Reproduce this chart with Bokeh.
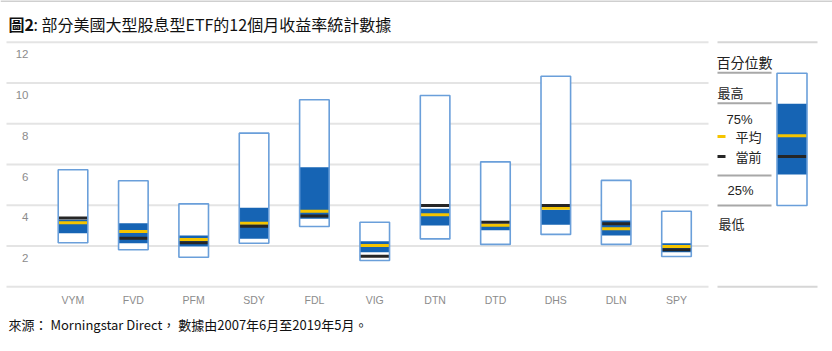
from bokeh.plotting import figure
from bokeh.models import Range1d, FixedTicker, ColumnDataSource, Title
from bokeh.core.properties import value
from bokeh.embed import file_html
from bokeh.resources import INLINE

# ---------------- data ----------------
etfs = ["VYM", "FVD", "PFM", "SDY", "FDL", "VIG", "DTN", "DTD", "DHS", "DLN", "SPY"]
low = [2.16, 1.82, 1.45, 2.14, 2.96, 1.29, 2.35, 2.08, 2.57, 2.08, 1.49]
q25 = [2.63, 2.14, 1.98, 2.36, 3.34, 1.70, 3.01, 2.77, 3.05, 2.52, 1.70]
q75 = [3.29, 3.12, 2.52, 3.88, 5.87, 2.24, 3.83, 3.00, 3.78, 3.25, 2.14]
high = [5.74, 5.20, 4.07, 7.54, 9.18, 3.17, 9.39, 6.13, 10.33, 5.22, 3.71]
mean = [3.14, 2.71, 2.32, 3.12, 3.71, 2.03, 3.53, 3.02, 3.86, 2.85, 1.98]
current = [3.37, 2.38, 2.16, 2.97, 3.48, 1.50, 3.99, 3.17, 3.99, 3.09, 1.82]
y_ticks = [0, 2, 4, 6, 8, 10, 12]
y_tick_labels = ["", "2", "4", "6", "8", "10", "12"]

title_bold = "圖2"
title_rest = ": 部分美國大型股息型ETF的12個月收益率統計數據"
footer = "來源： Morningstar Direct， 數據由2007年6月至2019年5月。"
legend_title = "百分位數"
legend_labels = ["最高", "75%", "平均", "當前", "25%", "最低"]

# ---------------- styles ----------------
CJK = "Noto Sans CJK TC"
NARROW = "'Liberation Sans Narrow', 'Liberation Sans', sans-serif"
GRID = "#e4e4e4"
OUTLINE = "#6a9fda"
BLUE = "#1664b4"
YELLOW = "#f5c400"
BLACK = "#262626"
GREY_TXT = "#8c8c8c"

W, H = 832, 351
FRAME_BOTTOM = 290
PX_PER_CAT = 60.35
FIRST_CAT_PX = 72.5
ZERO_PX = 286.3
PX_PER_UNIT = 20.38

x0 = -FIRST_CAT_PX / PX_PER_CAT
x1 = x0 + W / PX_PER_CAT
y0 = -(FRAME_BOTTOM - ZERO_PX) / PX_PER_UNIT
y1 = ZERO_PX / PX_PER_UNIT

p = figure(width=W, height=H, output_backend="svg", toolbar_location=None,
           x_range=Range1d(x0, x1), y_range=Range1d(y0, y1),
           y_axis_location=None,
           min_border_left=0, min_border_right=0, min_border_top=0,
           min_border_bottom=H - FRAME_BOTTOM)
p.extra_x_ranges = {"page": Range1d(0, W)}
p.extra_y_ranges = {"page": Range1d(FRAME_BOTTOM, 0)}
p.outline_line_color = None
p.grid.visible = False
p.background_fill_color = "white"
p.border_fill_color = "white"

# gridlines
gsrc = ColumnDataSource(dict(y=y_ticks, t=y_tick_labels))
p.segment(x0=6, x1=708, y0="y", y1="y", source=gsrc, x_range_name="page",
          line_color=GRID, line_width=2)
p.text(x=28, y="y", text="t", source=gsrc, x_range_name="page",
       text_align="right", text_baseline="middle", y_offset=12,
       text_font=value(NARROW), text_font_size="11.5px", text_color=GREY_TXT)

# boxes
src = ColumnDataSource(dict(x=list(range(len(etfs))), low=low, q25=q25, q75=q75,
                            high=high, mean=mean, current=current))
BW = 0.49
p.vbar(x="x", width=BW, bottom="low", top="high", source=src,
       fill_color="white", line_color=None)
p.vbar(x="x", width=BW, bottom="q25", top="q75", source=src,
       fill_color=BLUE, line_color=None)
p.rect(x="x", y="mean", width=BW, height=3, height_units="screen", source=src,
       fill_color=YELLOW, line_color=None)
p.rect(x="x", y="current", width=BW, height=3, height_units="screen", source=src,
       fill_color=BLACK, line_color=None)
p.vbar(x="x", width=BW, bottom="low", top="high", source=src,
       fill_color=None, line_color=OUTLINE, line_width=1.6)

# x axis
ax = p.xaxis[0]
ax.ticker = FixedTicker(ticks=list(range(len(etfs))))
ax.major_label_overrides = {i: n for i, n in enumerate(etfs)}
ax.axis_line_color = None
ax.major_tick_line_color = None
ax.minor_tick_line_color = None
ax.major_tick_out = 0
ax.major_tick_in = 0
ax.major_label_standoff = 3
ax.major_label_text_font = NARROW
ax.major_label_text_font_size = "10.5px"
ax.major_label_text_color = GREY_TXT

# title (page coords)
p.segment(x0=0, x1=W, y0=0.5, y1=0.5, x_range_name="page", y_range_name="page",
          line_color="#a0a0a0", line_width=1)
p.text(x=8, y=23, text=[title_bold], x_range_name="page", y_range_name="page",
       text_font=value(CJK), text_font_style="bold", text_font_size="16px",
       text_baseline="middle", text_color="#111111")
p.text(x=33, y=23, text=[title_rest], x_range_name="page", y_range_name="page",
       text_font=value(CJK), text_font_size="16px",
       text_baseline="middle", text_color="#111111")

# legend panel (page coords)
p.segment(x0=[717, 717], x1=[817, 817], y0=[41.7, 286.3], y1=[41.7, 286.3],
          x_range_name="page", y_range_name="page", line_color="#d6d6d6", line_width=2)
p.segment(x0=[717] * 4, x1=[771] * 4, y0=[72.3, 102.7, 175, 205], y1=[72.3, 102.7, 175, 205],
          x_range_name="page", y_range_name="page", line_color="#a8a8a8", line_width=2)
p.text(x=716, y=61, text=[legend_title], x_range_name="page", y_range_name="page",
       text_font=value(CJK), text_font_size="14px", text_baseline="middle", text_color="#222222")
p.text(x=[717, 735, 735, 718], y=[92, 136, 156, 223],
       text=[legend_labels[0], legend_labels[2], legend_labels[3], legend_labels[5]],
       x_range_name="page", y_range_name="page",
       text_font=value(CJK), text_font_size="13px", text_baseline="middle", text_color="#222222")
p.text(x=[726, 727], y=[118.5, 190], text=[legend_labels[1], legend_labels[4]],
       x_range_name="page", y_range_name="page",
       text_font=value(NARROW), text_font_size="13px", text_baseline="middle", text_color="#222222")
p.rect(x=[721, 721], y=[136, 156], width=8, height=3,
       x_range_name="page", y_range_name="page",
       fill_color=[YELLOW, BLACK], line_color=None)
p.quad(left=776.5, right=806.5, top=72.7, bottom=205, x_range_name="page", y_range_name="page",
       fill_color="white", line_color=None)
p.quad(left=776.5, right=806.5, top=103.3, bottom=174, x_range_name="page", y_range_name="page",
       fill_color=BLUE, line_color=None)
p.rect(x=[791.5, 791.5], y=[135.3, 156], width=30, height=3,
       x_range_name="page", y_range_name="page",
       fill_color=[YELLOW, BLACK], line_color=None)
p.quad(left=776.5, right=806.5, top=72.7, bottom=205, x_range_name="page", y_range_name="page",
       fill_color=None, line_color=OUTLINE, line_width=1.6)

# footer
p.add_layout(Title(text=footer, align="left", offset=8, standoff=8,
                   text_font=CJK, text_font_size="13px", text_font_style="normal",
                   text_color="#111111"), "below")

open("out.html", "w").write(file_html(p, INLINE))
